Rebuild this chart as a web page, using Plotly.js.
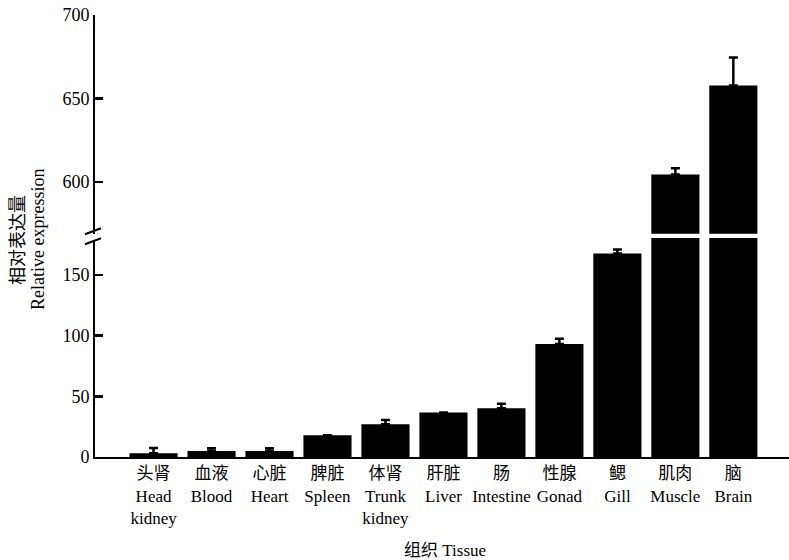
<!DOCTYPE html>
<html>
<head>
<meta charset="utf-8">
<script src="https://cdn.plot.ly/plotly-3.0.1.min.js"></script>
<style>html,body{margin:0;padding:0;background:#fff;}#chart{width:789px;height:560px;}</style>
</head>
<body>
<div id="chart"></div>
<script>
const categories = ['头肾<br>Head<br>kidney', '血液<br>Blood', '心脏<br>Heart', '脾脏<br>Spleen', '体肾<br>Trunk<br>kidney', '肝脏<br>Liver', '肠<br>Intestine', '性腺<br>Gonad', '鳃<br>Gill', '肌肉<br>Muscle', '脑<br>Brain'];
const values = [3.0, 5.0, 5.0, 18.0, 27.0, 36.6, 40.2, 93.1, 167.8, 604.4, 657.8];
const errors = [4.5, 2.2, 2.2, NaN, 3.5, NaN, 3.6, 4.4, 3.2, 3.8, 16.8];
const lowerTicks = [0, 50, 100, 150];
const upperTicks = [600, 650, 700];
const lowerRange = [0, 180.5];
const upperRange = [569, 700.01];

const FONT = '"Liberation Serif", "Noto Sans CJK SC", serif';

const lowerVals = values.map(v => v);
const lowerErr = values.map((v, i) => v > lowerRange[1] ? NaN : errors[i]);
const upperVals = values.map(v => v > upperRange[0] ? v : null);
const upperErr = values.map((v, i) => v > upperRange[0] ? errors[i] : NaN);

const errStyle = (arr) => ({type: 'data', array: arr, arrayminus: arr.map(() => 0), symmetric: false, visible: true, color: '#000', thickness: 2.5, width: 4.5});

const traces = [
  {type: 'bar', x: categories, y: lowerVals, xaxis: 'x', yaxis: 'y', marker: {color: '#000', line: {width: 0}}, error_y: errStyle(lowerErr), showlegend: false, hoverinfo: 'none'},
  {type: 'bar', x: categories, y: upperVals, xaxis: 'x', yaxis: 'y2', marker: {color: '#000', line: {width: 0}}, error_y: errStyle(upperErr), showlegend: false, hoverinfo: 'none'}
];

const d1 = (457 - 238) / 442;
const d2 = (457 - 233.7) / 442;

const yCommon = {
  showline: true, linecolor: '#000', linewidth: 2,
  ticks: 'inside', ticklen: 8, tickwidth: 2.5, tickcolor: '#000',
  showgrid: false, zeroline: false,
  tickfont: {family: FONT, size: 18, color: '#000'},
  tickmode: 'array', anchor: 'x', fixedrange: true
};

const layout = {
  width: 789, height: 560,
  margin: {l: 95, r: 0, t: 15, b: 103},
  paper_bgcolor: '#fff', plot_bgcolor: '#fff',
  bargap: 0.17,
  xaxis: {
    type: 'category', range: [-1.01, 10.96],
    showline: true, linecolor: '#000', linewidth: 2,
    ticks: '', showgrid: false, zeroline: false,
    tickfont: {family: FONT, size: 17, color: '#000'},
    anchor: 'y', fixedrange: true, tickangle: 0
  },
  yaxis: Object.assign({}, yCommon, {domain: [0, d1], range: lowerRange, tickvals: lowerTicks, ticktext: lowerTicks.map(String)}),
  yaxis2: Object.assign({}, yCommon, {domain: [d2, 1], range: upperRange, tickvals: upperTicks, ticktext: upperTicks.map(String)}),
  annotations: [
    {text: '组织 Tissue', xref: 'paper', yref: 'paper', x: 0.504, y: 0, yshift: -93, xanchor: 'center', yanchor: 'middle', showarrow: false, font: {family: FONT, size: 17, color: '#000'}},
    {text: '相对表达量', xref: 'paper', yref: 'paper', x: 0, xshift: -77, y: 0.491, xanchor: 'center', yanchor: 'middle', textangle: -90, showarrow: false, font: {family: FONT, size: 18, color: '#000'}},
    {text: 'Relative expression', xref: 'paper', yref: 'paper', x: 0, xshift: -57, y: 0.491, xanchor: 'center', yanchor: 'middle', textangle: -90, showarrow: false, font: {family: FONT, size: 18, color: '#000'}}
  ],
  shapes: [
    {type: 'rect', xref: 'paper', yref: 'paper', x0: -0.006, x1: 0.004, y0: (457 - 241) / 442, y1: (457 - 235) / 442, fillcolor: '#fff', line: {width: 0}},
    {type: 'line', xref: 'paper', yref: 'paper', x0: (85 - 95) / 694, x1: (101 - 95) / 694, y0: (457 - 234.3) / 442, y1: (457 - 228.3) / 442, line: {color: '#000', width: 2}},
    {type: 'line', xref: 'paper', yref: 'paper', x0: (85 - 95) / 694, x1: (101 - 95) / 694, y0: (457 - 244.3) / 442, y1: (457 - 238.3) / 442, line: {color: '#000', width: 2}}
  ]
};

Plotly.newPlot('chart', traces, layout, {displayModeBar: false, staticPlot: true});
</script>
</body>
</html>
